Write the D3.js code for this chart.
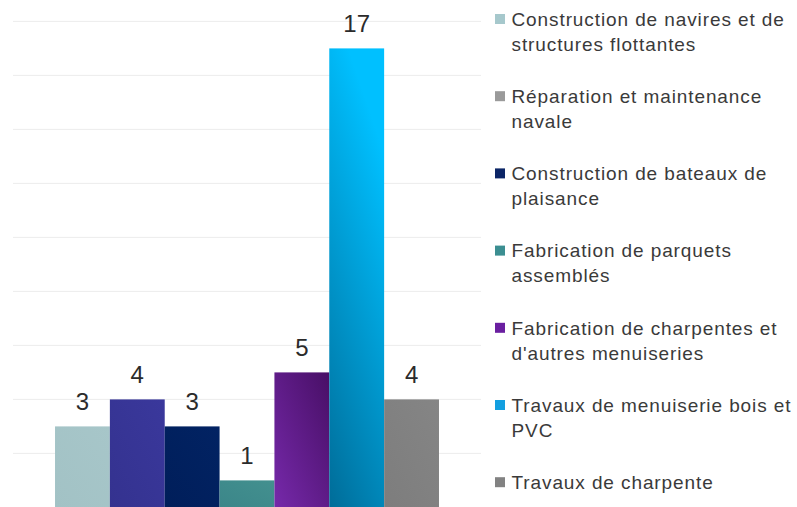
<!DOCTYPE html>
<html>
<head>
<meta charset="utf-8">
<script src="https://cdn.jsdelivr.net/npm/d3@7"></script>
<style>
	body { margin: 0; background: #fff; }
	svg { display: block; font-family: "Liberation Sans", Arial, sans-serif; }
</style>
</head>
<body>
<svg id="chart" width="797" height="507"></svg>
<script>
// activity labels (legend), \n marks the line break used in the legend
var categories = [
	"Construction de navires et de\nstructures flottantes",
	"Réparation et maintenance\nnavale",
	"Construction de bateaux de\nplaisance",
	"Fabrication de parquets\nassemblés",
	"Fabrication de charpentes et\nd'autres menuiseries",
	"Travaux de menuiserie bois et\nPVC",
	"Travaux de charpente"
];
var values = [3, 4, 3, 1, 5, 17, 4];
var yTicks = [2, 4, 6, 8, 10, 12, 14, 16, 18];

// bar fills [light, dark] for the gradients, and legend swatches
var barColors = [
	["#a7c6c9", "#a2c2c5"],
	["#3a389c", "#34328f"],
	["#022363", "#001e5a"],
	["#43908f", "#3b8689"],
	["#7629aa", "#480f66"],
	["#00c0ff", "#006c98"],
	["#858585", "#7d7d7d"]
];
var legendColors = ["#a6c8cc", "#9a9a9a", "#0b2566", "#3b8e91", "#6a1fa0", "#139fe0", "#828282"];

var svg = d3.select("#chart"),
	margin = {top: 21.4, left: 13, bottom: 0, right: 316},
	width = +svg.attr("width"),
	height = 507.4;

var x = d3.scaleBand()
	.domain(d3.range(values.length))
	.range([margin.left, width - margin.right])
	.paddingInner(0)
	.paddingOuter(0.766);

var y = d3.scaleLinear()
	.domain([0, 18])
	.range([height, margin.top]);

// gradients
var defs = svg.append("defs");
barColors.forEach(function(c, i) {
	var g = defs.append("linearGradient")
		.attr("id", "grad" + i)
		.attr("x1", "0").attr("y1", "1")
		.attr("x2", i == 5 ? "0.35" : "1").attr("y2", "0");
	g.append("stop").attr("offset", "0%").attr("stop-color", c[1 - (i == 4 ? 1 : 0)]);
	g.append("stop").attr("offset", "100%").attr("stop-color", c[i == 4 ? 1 : 0]);
});

// horizontal grid
svg.append("g")
	.attr("class", "grid")
	.selectAll("line")
	.data(yTicks)
	.enter().append("line")
	.attr("x1", margin.left)
	.attr("x2", width - margin.right)
	.attr("y1", d => y(d))
	.attr("y2", d => y(d))
	.attr("stroke", "#ececec")
	.attr("stroke-width", 1);

svg.selectAll(".bar")
	.data(values)
	.enter().append("rect")
	.attr("class", "bar")
	.attr("x", (d, i) => x(i))
	.attr("width", x.bandwidth())
	.attr("y", d => y(d))
	.attr("height", d => y(0) - y(d))
	.attr("fill", (d, i) => "url(#grad" + i + ")");

svg.selectAll(".labels")
	.data(values)
	.enter().append("text")
	.attr("class", "labels")
	.attr("x", (d, i) => x(i) + x.bandwidth() / 2)
	.attr("y", d => y(d) - 16)
	.attr("text-anchor", "middle")
	.style("font-size", "24px")
	.attr("fill", "#2b2b2b")
	.text(d => d);

// legend on the right
var legend = svg.append("g")
	.attr("class", "legend")
	.attr("transform", "translate(495,19)");

var item = legend.selectAll(".item")
	.data(categories)
	.enter().append("g")
	.attr("class", "item")
	.attr("transform", (d, i) => `translate(0,${i * 77.2})`);

item.append("rect")
	.attr("x", 0)
	.attr("y", -5)
	.attr("width", 10)
	.attr("height", 10)
	.attr("fill", (d, i) => legendColors[i]);

item.append("text")
	.attr("x", 16.5)
	.attr("y", 6.8)
	.style("font-size", "19px")
	.style("letter-spacing", "0.9px")
	.attr("fill", "#3a3a3a")
	.selectAll("tspan")
	.data(d => d.split("\n"))
	.enter().append("tspan")
	.attr("x", 16.5)
	.attr("dy", (d, j) => j == 0 ? 0 : 25)
	.text(d => d);
</script>
</body>
</html>
